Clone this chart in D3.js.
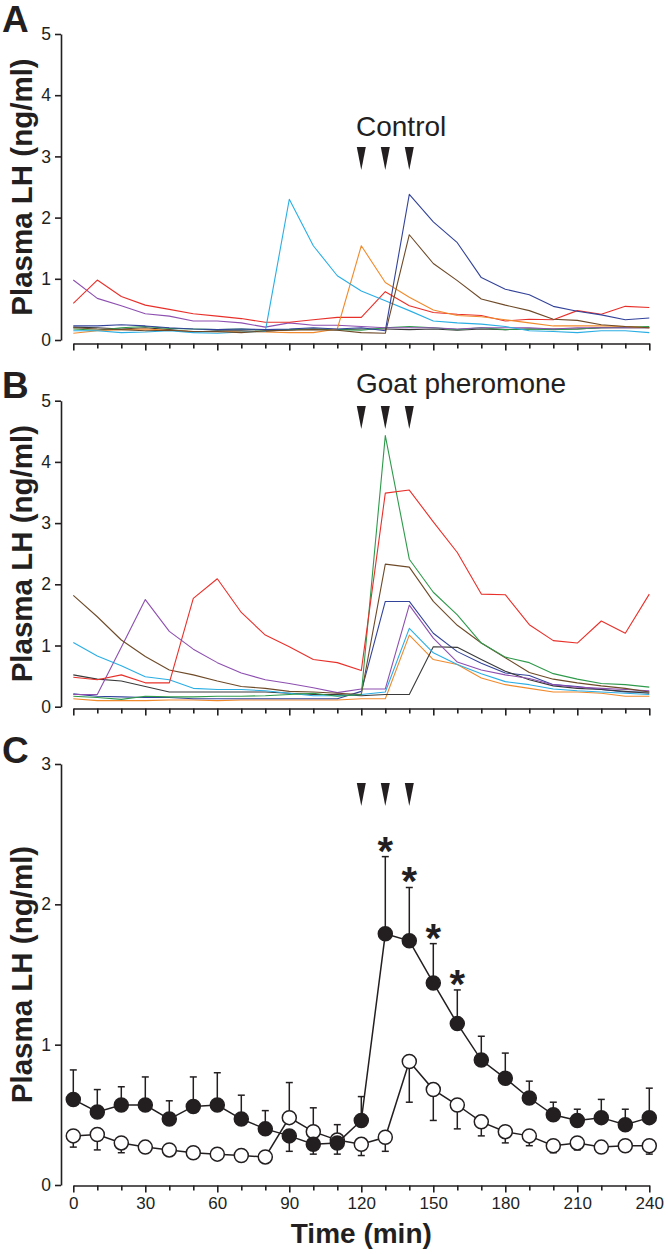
<!DOCTYPE html>
<html><head><meta charset="utf-8">
<script src="https://cdn.jsdelivr.net/npm/d3@7"></script>
<style>body{margin:0;background:#fff}svg{display:block}</style>
</head><body>
<script>
// ---------- DATA ----------
const time = [0,10,20,30,40,50,60,70,80,90,100,110,120,130,140,150,160,170,180,190,200,210,220,230,240];
const xTickLabels = [0,30,60,90,120,150,180,210,240];
const stimTimes = [120,130,140];
const sigTimes = [130,140,150,160];

// Panel A (Control) individual animals
const aRed      = [0.6,0.98,0.71,0.57,0.5,0.43,0.39,0.35,0.29,0.29,0.33,0.37,0.37,0.79,0.56,0.45,0.42,0.4,0.31,0.34,0.33,0.48,0.42,0.55,0.53];
const aPurple   = [0.98,0.68,0.56,0.43,0.39,0.31,0.31,0.28,0.21,0.28,0.24,0.24,0.22,0.2,0.2,0.2,0.18,0.2,0.2,0.2,0.18,0.2,0.2,0.2,0.2];
const aCyan     = [0.15,0.15,0.12,0.13,0.15,0.12,0.11,0.13,0.14,2.3,1.54,1.05,0.8,0.64,0.48,0.31,0.28,0.26,0.22,0.15,0.14,0.12,0.15,0.15,0.12];
const aOrange   = [0.11,0.15,0.17,0.18,0.16,0.14,0.13,0.14,0.13,0.12,0.12,0.18,1.54,0.94,0.7,0.49,0.4,0.38,0.33,0.28,0.23,0.23,0.23,0.22,0.2];
const aDarkBlue = [0.23,0.23,0.25,0.23,0.2,0.18,0.17,0.18,0.17,0.18,0.2,0.18,0.2,0.15,2.38,1.93,1.59,1.02,0.83,0.74,0.55,0.47,0.41,0.33,0.36];
const aBrown    = [0.2,0.18,0.17,0.15,0.16,0.14,0.14,0.12,0.15,0.16,0.17,0.16,0.12,0.11,1.72,1.25,0.97,0.67,0.57,0.48,0.34,0.32,0.25,0.22,0.2];
const aGreen    = [0.18,0.16,0.2,0.22,0.19,0.18,0.17,0.18,0.16,0.17,0.18,0.17,0.16,0.2,0.22,0.2,0.17,0.2,0.17,0.18,0.17,0.18,0.2,0.21,0.22];
const aBlack    = [0.21,0.2,0.18,0.2,0.17,0.13,0.15,0.15,0.14,0.17,0.18,0.17,0.18,0.18,0.17,0.18,0.16,0.18,0.17,0.18,0.18,0.18,0.2,0.2,0.2];

// Panel B (Goat pheromone) individual animals
const bRed      = [0.48,0.44,0.52,0.39,0.39,1.77,2.09,1.54,1.17,0.98,0.77,0.72,0.59,3.49,3.54,3.02,2.52,1.84,1.83,1.34,1.08,1.04,1.4,1.2,1.84];
const bGreen    = [0.17,0.15,0.12,0.17,0.16,0.16,0.17,0.17,0.18,0.2,0.22,0.17,0.2,4.43,2.41,1.87,1.5,1.04,0.81,0.72,0.54,0.45,0.38,0.36,0.32];
const bBrown    = [1.82,1.47,1.09,0.82,0.6,0.52,0.42,0.33,0.3,0.25,0.24,0.22,0.2,2.33,2.28,1.72,1.33,1.04,0.8,0.56,0.45,0.39,0.34,0.3,0.24];
const bDarkBlue = [0.21,0.17,0.16,0.15,0.15,0.13,0.13,0.13,0.13,0.13,0.13,0.13,0.25,1.72,1.72,1.2,0.9,0.71,0.55,0.51,0.36,0.33,0.28,0.24,0.24];
const bPurple   = [0.2,0.2,0.97,1.75,1.23,0.94,0.72,0.55,0.44,0.38,0.31,0.23,0.29,0.29,1.66,1.12,0.73,0.6,0.52,0.46,0.36,0.32,0.3,0.28,0.26];
const bCyan     = [1.05,0.83,0.67,0.49,0.44,0.3,0.28,0.28,0.26,0.22,0.18,0.18,0.2,0.24,1.28,0.88,0.69,0.54,0.41,0.36,0.29,0.26,0.24,0.22,0.2];
const bOrange   = [0.13,0.1,0.1,0.1,0.11,0.11,0.1,0.11,0.11,0.11,0.11,0.11,0.13,0.13,1.17,0.77,0.69,0.47,0.36,0.3,0.24,0.24,0.22,0.17,0.17];
const bBlack    = [0.52,0.45,0.42,0.33,0.24,0.24,0.24,0.24,0.24,0.22,0.2,0.2,0.18,0.2,0.2,0.98,0.97,0.77,0.58,0.44,0.34,0.3,0.28,0.25,0.22];

// Panel C means and SEM (goat pheromone = filled, control = open)
const pherMean = [0.61,0.52,0.57,0.57,0.47,0.56,0.57,0.47,0.4,0.35,0.29,0.3,0.46,1.79,1.74,1.44,1.15,0.89,0.76,0.62,0.5,0.46,0.48,0.43,0.48];
const pherSem  = [0.21,0.16,0.13,0.2,0.13,0.21,0.23,0.17,0.13,0.11,0.07,0.08,0.17,0.55,0.38,0.28,0.24,0.17,0.18,0.12,0.09,0.08,0.13,0.11,0.21];
const pherSide = [1,1,1,1,1,1,1,1,1,-1,-1,-1,1,1,1,1,1,1,1,1,1,1,1,1,1];
const ctrlMean = [0.35,0.36,0.3,0.27,0.25,0.23,0.22,0.21,0.2,0.48,0.38,0.32,0.29,0.34,0.88,0.68,0.57,0.45,0.38,0.35,0.28,0.3,0.27,0.28,0.28];
const ctrlSem  = [0.08,0.11,0.07,0.04,0.03,0.03,0.02,0.02,0.02,0.25,0.17,0.11,0.08,0.1,0.29,0.22,0.17,0.1,0.08,0.07,0.05,0.05,0.02,0.02,0.06];
const ctrlSide = [-1,-1,-1,-1,-1,-1,-1,-1,-1,1,1,1,-1,-1,-1,-1,-1,-1,-1,-1,-1,-1,-1,-1,-1];

// ---------- DRAWING ----------
const colors = {red:"#e8302a",purple:"#8d4fb0",cyan:"#2aaee4",orange:"#f18a2c",darkBlue:"#33439a",brown:"#6e4a28",green:"#2f9a4b",black:"#3a3a3a"};
const seriesA = [["black",aBlack],["green",aGreen],["purple",aPurple],["red",aRed],["orange",aOrange],["cyan",aCyan],["brown",aBrown],["darkBlue",aDarkBlue]];
const seriesB = [["orange",bOrange],["darkBlue",bDarkBlue],["black",bBlack],["cyan",bCyan],["purple",bPurple],["brown",bBrown],["green",bGreen],["red",bRed]];

const W = 668, H = 1254;
const FONT = "Arial, 'Liberation Sans', Helvetica, sans-serif";
const INK = "#231f20";
const svg = d3.select("body").append("svg").attr("width", W).attr("height", H)
  .style("font-family", FONT);

const x = d3.scaleLinear().domain([0, 240]).range([73.3, 649.3]);

function drawAxes(y, yTicks, axisY, showXLabels, yLabelCenter){
  const gy = svg.append("g").attr("transform", "translate(61,0)")
    .call(d3.axisLeft(y).tickValues(yTicks).tickSize(6).tickPadding(4).tickSizeOuter(0).tickFormat(d3.format("d")));
  gy.selectAll("text").attr("font-size", 17.5).attr("fill", INK).attr("font-family", FONT);
  const gx = svg.append("g").attr("transform", `translate(0,${axisY})`)
    .call(d3.axisBottom(x).tickValues(time).tickSize(5).tickPadding(6).tickSizeOuter(0)
      .tickFormat(d => showXLabels && xTickLabels.includes(d) ? d : ""));
  gx.selectAll(".tick line").attr("y2", d => xTickLabels.includes(d) ? 7 : 5);
  gx.selectAll("text").attr("font-size", 17).attr("fill", INK).attr("font-family", FONT);
  [gx, gy].forEach(g => {
    g.select(".domain").attr("stroke", INK).attr("stroke-width", 1.6);
    g.selectAll(".tick line").attr("stroke", INK).attr("stroke-width", 1.6);
  });
  svg.append("text").attr("transform", `translate(32,${yLabelCenter}) rotate(-90)`)
    .attr("text-anchor", "middle").attr("font-weight", "bold").attr("font-size", 29.5)
    .attr("fill", INK).text("Plasma LH (ng/ml)");
}

function arrows(topY){
  const g = svg.append("g");
  stimTimes.forEach(t => {
    const cx = x(t);
    g.append("path").attr("d", `M${cx-4.5},${topY}L${cx+4.5},${topY}L${cx},${topY+23}Z`).attr("fill", INK);
  });
}

function letter(txt, baseY){
  svg.append("text").attr("x", 2).attr("y", baseY).attr("font-weight", "bold").attr("font-size", 37)
    .attr("fill", INK).text(txt);
}

function indivPanel(series, yTop, yZero, axisY, label, labelBase, arrowTop, let, letY){
  const y = d3.scaleLinear().domain([0, 5]).range([yZero, yTop]);
  drawAxes(y, [0,1,2,3,4,5], axisY, false, (yTop + yZero) / 2);
  const line = d3.line().x((d, i) => x(time[i])).y(d => y(d));
  svg.append("g").selectAll("path").data(series).join("path")
    .attr("d", d => line(d[1])).attr("fill", "none")
    .attr("stroke", d => colors[d[0]]).attr("stroke-width", 1.1).attr("stroke-linejoin", "round");
  svg.append("text").attr("x", 356).attr("y", labelBase).attr("font-size", 28).attr("fill", INK).text(label);
  arrows(arrowTop);
  letter(let, letY);
}

indivPanel(seriesA, 34, 340, 343.5, "Control", 136, 147, "A", 32);
indivPanel(seriesB, 400.7, 706.7, 708.5, "Goat pheromone", 393, 406, "B", 398);

// Panel C
const yC = d3.scaleLinear().domain([0, 3]).range([1185, 764]);
drawAxes(yC, [0,1,2,3], 1185.5, true, (764 + 1185) / 2);
letter("C", 763);
arrows(783);

const gC = svg.append("g");
function errBars(mean, sem, side){
  gC.append("g").selectAll("g").data(time).join("g").each(function(t, i){
    const g = d3.select(this);
    const cx = x(t), y0 = yC(mean[i]), y1 = yC(mean[i] + side[i] * sem[i]);
    g.append("line").attr("x1", cx).attr("x2", cx).attr("y1", y0).attr("y2", y1).attr("stroke", INK).attr("stroke-width", 1.5);
    g.append("line").attr("x1", cx - 3.5).attr("x2", cx + 3.5).attr("y1", y1).attr("y2", y1).attr("stroke", INK).attr("stroke-width", 1.5);
  });
}
errBars(ctrlMean, ctrlSem, ctrlSide);
errBars(pherMean, pherSem, pherSide);
const lineC = d3.line().x((d, i) => x(time[i])).y(d => yC(d));
gC.append("path").attr("d", lineC(ctrlMean)).attr("fill", "none").attr("stroke", INK).attr("stroke-width", 1.5);
gC.append("g").selectAll("circle").data(ctrlMean).join("circle")
  .attr("cx", (d, i) => x(time[i])).attr("cy", d => yC(d)).attr("r", 7)
  .attr("fill", "#fff").attr("stroke", INK).attr("stroke-width", 1.5);
gC.append("path").attr("d", lineC(pherMean)).attr("fill", "none").attr("stroke", INK).attr("stroke-width", 1.5);
gC.append("g").selectAll("circle").data(pherMean).join("circle")
  .attr("cx", (d, i) => x(time[i])).attr("cy", d => yC(d)).attr("r", 7)
  .attr("fill", INK).attr("stroke", INK).attr("stroke-width", 1.5);

// significance stars
gC.append("g").selectAll("text").data(sigTimes).join("text")
  .attr("x", t => x(t)).attr("y", t => { const i = time.indexOf(t); return yC(pherMean[i] + pherSem[i]) + 8; })
  .attr("text-anchor", "middle").attr("font-size", 40).attr("font-weight", "bold").attr("fill", INK).text("*");

svg.append("text").attr("x", x(120)).attr("y", 1243).attr("text-anchor", "middle")
  .attr("font-weight", "bold").attr("font-size", 28).attr("fill", INK).text("Time (min)");
</script>
</body></html>
